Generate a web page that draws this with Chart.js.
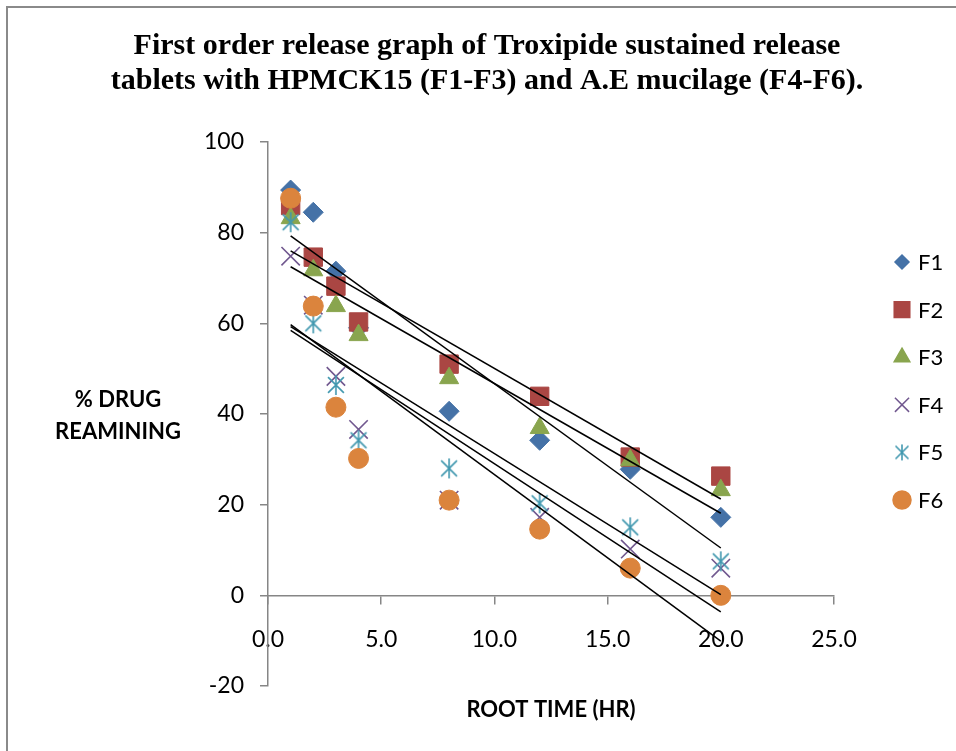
<!DOCTYPE html>
<html>
<head>
<meta charset="utf-8">
<script src="https://cdn.jsdelivr.net/npm/chart.js@4.4.1/dist/chart.umd.min.js"></script>
<style>
  html, body { margin: 0; padding: 0; background: #fff; }
  #wrap { position: relative; width: 956px; height: 751px; }
  #frame { position: absolute; left: 6px; top: 6px; right: 0; bottom: 0;
           border-top: 2px solid #8a8a8a; border-left: 2px solid #8a8a8a; pointer-events: none; }
</style>
</head>
<body>
<div id="wrap">
  <canvas id="chart"></canvas>
  <div id="frame"></div>
</div>
<script>
const TITLE = [
  'First order release graph of Troxipide sustained release',
  'tablets with HPMCK15 (F1-F3) and A.E mucilage (F4-F6).'
];
const X_TITLE = 'ROOT TIME (HR)';
const Y_TITLE = ['% DRUG', 'REAMINING'];

const ROOT_TIME = [1, 2, 3, 4, 8, 12, 16, 20];
const F1 = [89.4, 84.5, 71.5, 59.0, 40.6, 34.2, 27.8, 17.2];
const F2 = [86.0, 74.6, 68.2, 60.3, 51.0, 43.9, 30.5, 26.3];
const F3 = [83.2, 71.7, 63.8, 57.4, 47.9, 36.9, 29.8, 23.2];
const F4 = [74.8, 64.0, 48.3, 36.6, 21.0, 17.2, 10.2, 6.0];
const F5 = [82.3, 60.0, 46.4, 34.2, 28.0, 20.3, 15.0, 7.5];
const F6 = [87.6, 63.8, 41.5, 30.2, 21.0, 14.6, 6.0, 0.0];

const NAMES = ['F1', 'F2', 'F3', 'F4', 'F5', 'F6'];
const SERIES = [F1, F2, F3, F4, F5, F6];
const COLORS = ['#4572a7', '#aa4643', '#89a54e', '#71588f', '#4198af', '#db843d'];

// Excel-style "star": an X with a vertical bar through it
function asterisk(size, color) {
  const c = document.createElement('canvas');
  c.width = c.height = size;
  const g = c.getContext('2d');
  const m = size / 2, d = size * 0.36;
  g.strokeStyle = color;
  g.lineWidth = 1.6;
  g.beginPath();
  g.moveTo(m, 1); g.lineTo(m, size - 1);
  g.moveTo(m - d, m - d); g.lineTo(m + d, m + d);
  g.moveTo(m + d, m - d); g.lineTo(m - d, m + d);
  g.stroke();
  return c;
}

const STYLES = [
  { pointStyle: 'rectRot', radius: 10, legendRadius: 7 },
  { pointStyle: 'rect', radius: 13, legendRadius: 11 },
  { pointStyle: 'triangle', radius: 11, legendRadius: 9 },
  { pointStyle: 'crossRot', radius: 13, legendRadius: 10 },
  { pointStyle: asterisk(22, COLORS[4]), radius: 10, legendImg: asterisk(18, COLORS[4]) },
  { pointStyle: 'circle', radius: 10, legendRadius: 9 }
];

// least squares line through each series, drawn across the sampled range
function trend(ys) {
  const n = ys.length;
  const mx = ROOT_TIME.reduce((s, v) => s + v, 0) / n;
  const my = ys.reduce((s, v) => s + v, 0) / n;
  let sxy = 0, sxx = 0;
  ROOT_TIME.forEach((x, i) => { sxy += (x - mx) * (ys[i] - my); sxx += (x - mx) * (x - mx); });
  const b = sxy / sxx, a = my - b * mx;
  const x0 = ROOT_TIME[0], x1 = ROOT_TIME[n - 1];
  return [{ x: x0, y: a + b * x0 }, { x: x1, y: a + b * x1 }];
}

// later series sit on top of earlier ones; trend lines above all markers
const scatterSets = SERIES.map((ys, i) => ({
  type: 'scatter',
  label: NAMES[i],
  data: ROOT_TIME.map((x, j) => ({ x, y: ys[j] })),
  pointStyle: STYLES[i].pointStyle,
  pointRadius: STYLES[i].radius,
  pointBackgroundColor: COLORS[i],
  pointBorderColor: COLORS[i],
  pointBorderWidth: i === 3 ? 1.6 : 1,
  order: SERIES.length - i
}));

const trendSets = SERIES.map((ys) => ({
  type: 'line',
  label: '',
  data: trend(ys),
  borderColor: '#000',
  borderWidth: 1.5,
  pointRadius: 0,
  fill: false,
  order: 0
}));

const tickFont = { family: 'Lato', size: 23 };
const axisGray = '#868686';

const decor = {
  id: 'decor',
  afterDraw(chart) {
    const { ctx, chartArea: area } = chart;
    ctx.save();
    ctx.fillStyle = '#000';
    ctx.textAlign = 'center';
    ctx.textBaseline = 'middle';

    ctx.font = 'bold 30px "Liberation Serif"';
    TITLE.forEach((line, i) => ctx.fillText(line, 487, 46 + i * 35));

    ctx.font = 'bold 22px Lato';
    Y_TITLE.forEach((line, i) => ctx.fillText(line, 118, 400 + i * 32));
    ctx.fillText(X_TITLE, (area.left + area.right) / 2, 710);

    // legend
    const lx = area.right + 68, ly = area.top + 120, step = 47.6;
    NAMES.forEach((name, i) => {
      const y = ly + i * step;
      const st = STYLES[i];
      ctx.fillStyle = COLORS[i];
      ctx.strokeStyle = COLORS[i];
      ctx.lineWidth = 1.5;
      if (st.legendImg) {
        ctx.drawImage(st.legendImg, lx - 9, y - 9);
      } else {
        Chart.helpers.drawPoint(ctx, { pointStyle: st.pointStyle, radius: st.legendRadius, rotation: 0, borderWidth: 1 }, lx, y);
      }
      ctx.fillStyle = '#000';
      ctx.textAlign = 'left';
      ctx.font = '22px Lato';
      ctx.fillText(name, lx + 16, y + 1);
    });
    ctx.restore();
  }
};

new Chart(document.getElementById('chart'), {
  data: { datasets: [...trendSets, ...scatterSets] },
  plugins: [decor],
  options: {
    responsive: true,
    maintainAspectRatio: false,
    animation: false,
    layout: { padding: { top: 142, left: 0, right: 122, bottom: 65 } },
    plugins: {
      legend: { display: false },
      title: { display: false },
      tooltip: { enabled: false }
    },
    scales: {
      x: {
        type: 'linear',
        position: { y: 0 },
        min: 0,
        max: 25,
        ticks: { stepSize: 5, color: '#000', font: tickFont, padding: 22, callback: (v) => v.toFixed(1) },
        grid: { drawOnChartArea: false, tickLength: 8, color: axisGray, lineWidth: 1.5 },
        border: { color: axisGray, width: 1.5 }
      },
      y: {
        type: 'linear',
        min: -20,
        max: 100,
        afterFit: (scale) => { scale.width = 268; },
        ticks: { stepSize: 20, color: '#000', font: tickFont, padding: 16 },
        grid: { drawOnChartArea: false, tickLength: 8, color: axisGray, lineWidth: 1.5 },
        border: { color: axisGray, width: 1.5 }
      }
    }
  }
});
</script>
</body>
</html>
